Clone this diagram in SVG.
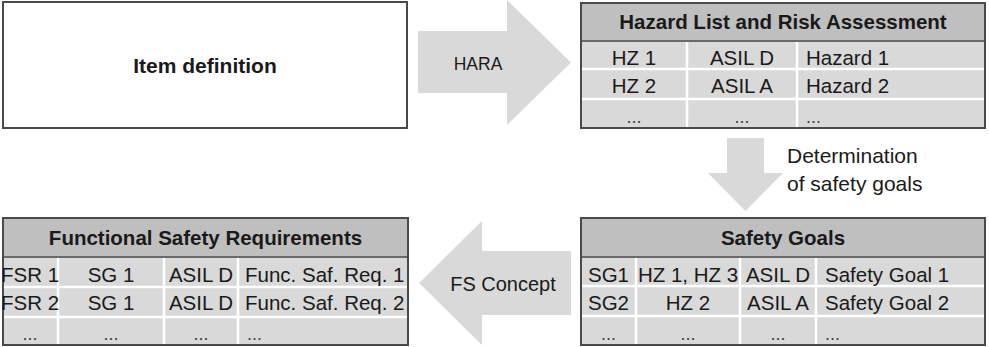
<svg xmlns="http://www.w3.org/2000/svg" width="989" height="347" viewBox="0 0 989 347">
  <style>
    text { font-family: "Liberation Sans", Arial, sans-serif; fill: #1a1a1a; }
    .title { font-size: 20.5px; font-weight: bold; text-anchor: middle; }
    .cell { font-size: 20.5px; }
    .c { text-anchor: middle; }
    .dots { font-size: 18px; fill: #444; }
    .label { font-size: 20px; }
    .frame { fill: none; stroke: #4a4a4a; stroke-width: 2; }
    .head { fill: #bfbfbf; }
    .body { fill: #d9d9d9; }
    .grid { stroke: #ffffff; stroke-width: 2.5; }
    .hline { stroke: #6a6a6a; stroke-width: 2; }
    .arrow { fill: #d9d9d9; }
  </style>

  <!-- process arrows -->
  <g id="connectors">
    <g id="arrow-hara">
      <polygon class="arrow" points="418,31 507,31 507,0 571,62.5 507,125 507,93 418,93"/>
      <text class="label c" x="478" y="70" font-size="17.5" style="font-size:17.5px">HARA</text>
    </g>
    <g id="arrow-goals">
      <polygon class="arrow" points="727,138 764,138 764,173 783,173 745.5,211 708,173 727,173"/>
      <text class="label" x="787" y="163" style="font-size:21px">Determination</text>
      <text class="label" x="787" y="191" style="font-size:21px">of safety goals</text>
    </g>
    <g id="arrow-fs">
      <polygon class="arrow" points="571,251 482,251 482,221 419,283 482,345 482,315 571,315"/>
      <text class="label c" x="503" y="291">FS Concept</text>
    </g>
  </g>

  <!-- item definition -->
  <g id="item-definition">
    <rect x="3" y="2" width="404" height="126" fill="#ffffff" stroke="#4a4a4a" stroke-width="2"/>
    <text class="title" x="205" y="73" style="font-size:21px">Item definition</text>
  </g>

  <!-- hazard list -->
  <g id="hazard-list">
    <rect class="head" x="581" y="3" width="404" height="38"/>
    <rect class="body" x="581" y="41" width="404" height="87"/>
    <line class="grid" x1="581" y1="69" x2="985" y2="69"/>
    <line class="grid" x1="581" y1="99" x2="985" y2="99"/>
    <line class="grid" x1="687" y1="41" x2="687" y2="128"/>
    <line class="grid" x1="797" y1="41" x2="797" y2="128"/>
    <line class="hline" x1="581" y1="41" x2="985" y2="41"/>
    <rect class="frame" x="581" y="3" width="404" height="125"/>
    <text class="title" x="783" y="29">Hazard List and Risk Assessment</text>
    <text class="cell c" x="634" y="65">HZ 1</text>
    <text class="cell c" x="742" y="65">ASIL D</text>
    <text class="cell" x="806" y="65">Hazard 1</text>
    <text class="cell c" x="634" y="93">HZ 2</text>
    <text class="cell c" x="742" y="93">ASIL A</text>
    <text class="cell" x="806" y="93">Hazard 2</text>
    <text class="cell dots c" x="634" y="123">...</text>
    <text class="cell dots c" x="742" y="123">...</text>
    <text class="cell dots" x="806" y="123">...</text>
  </g>

  <!-- safety goals -->
  <g id="safety-goals">
    <rect class="head" x="581" y="218" width="404" height="39"/>
    <rect class="body" x="581" y="257" width="404" height="88"/>
    <line class="grid" x1="581" y1="286" x2="985" y2="286"/>
    <line class="grid" x1="581" y1="316" x2="985" y2="316"/>
    <line class="grid" x1="636" y1="257" x2="636" y2="345"/>
    <line class="grid" x1="740" y1="257" x2="740" y2="345"/>
    <line class="grid" x1="816" y1="257" x2="816" y2="345"/>
    <line class="hline" x1="581" y1="257" x2="985" y2="257"/>
    <rect class="frame" x="581" y="218" width="404" height="127"/>
    <text class="title" x="783" y="245">Safety Goals</text>
    <text class="cell c" x="608.5" y="282">SG1</text>
    <text class="cell c" x="688" y="282">HZ 1, HZ 3</text>
    <text class="cell c" x="778" y="282">ASIL D</text>
    <text class="cell" x="825" y="282">Safety Goal 1</text>
    <text class="cell c" x="608.5" y="310">SG2</text>
    <text class="cell c" x="688" y="310">HZ 2</text>
    <text class="cell c" x="778" y="310">ASIL A</text>
    <text class="cell" x="825" y="310">Safety Goal 2</text>
    <text class="cell dots c" x="608.5" y="340">...</text>
    <text class="cell dots c" x="688" y="340">...</text>
    <text class="cell dots c" x="778" y="340">...</text>
    <text class="cell dots" x="825" y="340">...</text>
  </g>

  <!-- functional safety requirements -->
  <g id="functional-safety-requirements">
    <rect class="head" x="3" y="218" width="405" height="39"/>
    <rect class="body" x="3" y="257" width="405" height="88"/>
    <line class="grid" x1="3" y1="287" x2="408" y2="287"/>
    <line class="grid" x1="3" y1="317" x2="408" y2="317"/>
    <line class="grid" x1="58" y1="257" x2="58" y2="345"/>
    <line class="grid" x1="164" y1="257" x2="164" y2="345"/>
    <line class="grid" x1="238" y1="257" x2="238" y2="345"/>
    <line class="hline" x1="3" y1="257" x2="408" y2="257"/>
    <rect class="frame" x="3" y="218" width="405" height="127"/>
    <text class="title" x="205.5" y="245">Functional Safety Requirements</text>
    <text class="cell c" x="30" y="282">FSR 1</text>
    <text class="cell c" x="111" y="282">SG 1</text>
    <text class="cell c" x="201" y="282">ASIL D</text>
    <text class="cell" x="245" y="282">Func. Saf. Req. 1</text>
    <text class="cell c" x="30" y="310">FSR 2</text>
    <text class="cell c" x="111" y="310">SG 1</text>
    <text class="cell c" x="201" y="310">ASIL D</text>
    <text class="cell" x="245" y="310">Func. Saf. Req. 2</text>
    <text class="cell dots c" x="30" y="340">...</text>
    <text class="cell dots c" x="111" y="340">...</text>
    <text class="cell dots c" x="201" y="340">...</text>
    <text class="cell dots" x="247" y="340">...</text>
  </g>
</svg>
